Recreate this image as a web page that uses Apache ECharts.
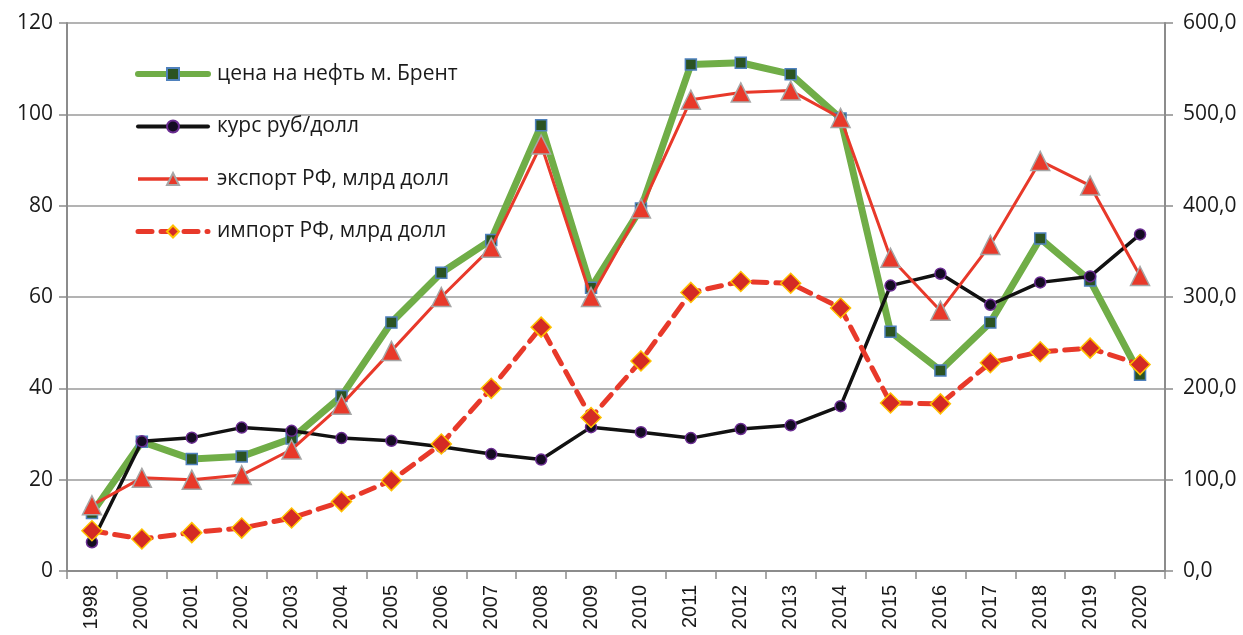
<!DOCTYPE html>
<html>
<head>
<meta charset="utf-8">
<script src="https://cdn.jsdelivr.net/npm/echarts@6/dist/echarts.min.js"></script>
<style>
  html, body { margin: 0; padding: 0; background: #fff; }
  #chart { width: 1243px; height: 635px; }
</style>
</head>
<body>
<div id="chart"></div>
<script>
// годы
const years = ["1998", "2000", "2001", "2002", "2003", "2004", "2005", "2006", "2007", "2008", "2009",
  "2010", "2011", "2012", "2013", "2014", "2015", "2016", "2017", "2018", "2019", "2020"];

// левая ось
const brent = [12.7, 28.3, 24.5, 25.1, 29.0, 38.3, 54.4, 65.3, 72.5, 97.6, 62.0,
  79.4, 110.9, 111.3, 108.8, 99.1, 52.4, 43.9, 54.4, 72.8, 63.6, 43.0];
const rate = [6.3, 28.4, 29.2, 31.4, 30.7, 29.1, 28.5, 27.2, 25.6, 24.4, 31.5,
  30.4, 29.1, 31.1, 31.9, 36.1, 62.5, 65.1, 58.3, 63.2, 64.5, 73.7];

// правая ось
const exportRF = [72, 102, 100, 105, 133, 182, 241, 300, 354, 467, 300,
  397, 516, 524, 526, 496, 343, 285, 357, 449, 422, 323];
const importRF = [44, 35, 42, 47, 58, 76, 99, 139, 200, 267, 168,
  230, 305, 317, 315, 288, 184, 183, 228, 240, 244, 226];

const leftTicks = [0, 20, 40, 60, 80, 100, 120];
const rightTicks = [0, 100, 200, 300, 400, 500, 600];

const names = ["цена на нефть м. Брент", "курс руб/долл", "экспорт РФ, млрд долл", "импорт РФ, млрд долл"];

const axisGray = "#8c8c8c";
const labelFont = "Open Sans";

let myChart = echarts.init(document.getElementById("chart"));
myChart.setOption({
  animation: false,
  grid: {
    left: 67,
    right: 78,
    top: 23,
    bottom: 64,
  },
  legend: {
    orient: "vertical",
    left: 130,
    top: 57,
    itemWidth: 70,
    itemHeight: 15,
    itemGap: 28.5,
    textStyle: {
      fontFamily: labelFont,
      fontSize: 21,
      lineHeight: 24,
      color: "#1a1a1a",
      padding: [0, 0, 0, 4],
    },
    data: [
      { name: names[0], lineStyle: { width: 6 } },
      { name: names[1], lineStyle: { width: 4 } },
      { name: names[2], lineStyle: { width: 3.5 } },
      { name: names[3], lineStyle: { width: 5 } },
    ],
  },
  xAxis: {
    type: "category",
    data: years,
    boundaryGap: true,
    axisLine: { lineStyle: { color: axisGray, width: 2 } },
    axisTick: { show: true, length: 8, lineStyle: { color: axisGray, width: 1.5 } },
    axisLabel: {
      rotate: 90,
      margin: 14,
      fontFamily: "Liberation Sans",
      fontSize: 20,
      color: "#1a1a1a",
      interval: 0,
    },
  },
  yAxis: [
    {
      type: "value",
      min: leftTicks[0],
      max: leftTicks[leftTicks.length - 1],
      interval: 20,
      axisLine: { show: true, lineStyle: { color: axisGray, width: 2 } },
      axisTick: { show: true, length: 8, lineStyle: { color: axisGray, width: 1.5 } },
      splitLine: { lineStyle: { color: "#9a9a9a", width: 1.5 } },
      axisLabel: {
        margin: 14,
        fontFamily: labelFont,
        fontSize: 21,
        color: "#1a1a1a",
      },
    },
    {
      type: "value",
      min: rightTicks[0],
      max: rightTicks[rightTicks.length - 1],
      interval: 100,
      position: "right",
      axisLine: { show: true, lineStyle: { color: axisGray, width: 2 } },
      axisTick: { show: true, length: 8, lineStyle: { color: axisGray, width: 1.5 } },
      splitLine: { show: false },
      axisLabel: {
        margin: 18,
        fontFamily: labelFont,
        fontSize: 21,
        color: "#1a1a1a",
        formatter: (v) => v.toFixed(1).replace(".", ","),
      },
    },
  ],
  series: [
    {
      name: names[0],
      type: "line",
      yAxisIndex: 0,
      data: brent,
      symbol: "rect",
      symbolSize: 11,
      lineStyle: { color: "#70ad47", width: 7, cap: "round", join: "round" },
      itemStyle: { color: "#2b5322", borderColor: "#4f81bd", borderWidth: 1.5 },
      z: 2,
    },
    {
      name: names[1],
      type: "line",
      yAxisIndex: 0,
      data: rate,
      symbol: "circle",
      symbolSize: 11,
      lineStyle: { color: "#111111", width: 3.5, cap: "round", join: "round" },
      itemStyle: { color: "#140c22", borderColor: "#6a2c91", borderWidth: 1.5 },
      z: 3,
    },
    {
      name: names[2],
      type: "line",
      yAxisIndex: 1,
      data: exportRF,
      symbol: "triangle",
      symbolSize: 19,
      lineStyle: { color: "#e8392a", width: 3, join: "round" },
      itemStyle: { color: "#e8392a", borderColor: "#a6a6a6", borderWidth: 1.5 },
      z: 4,
    },
    {
      name: names[3],
      type: "line",
      yAxisIndex: 1,
      data: importRF,
      symbol: "diamond",
      symbolSize: 20,
      lineStyle: { color: "#e8392a", width: 5, type: [14, 9], cap: "round" },
      itemStyle: { color: "#d42a24", borderColor: "#ffc000", borderWidth: 1.5 },
      z: 5,
    },
  ],
});
</script>
</body>
</html>
